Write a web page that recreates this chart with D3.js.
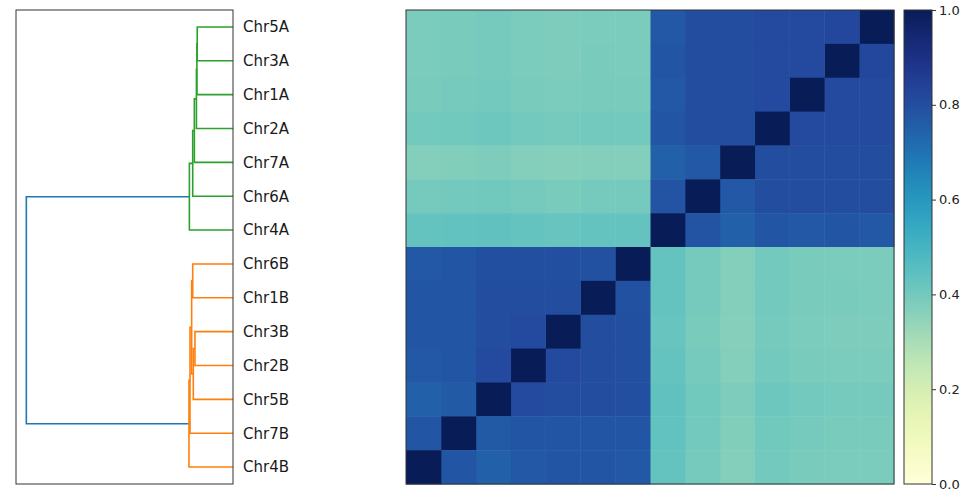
<!DOCTYPE html>
<html>
<head>
<meta charset="utf-8">
<script src="https://cdn.jsdelivr.net/npm/d3@7"></script>
<style>
  body { margin: 0; background: #fff; }
  svg { display: block; font-family: "DejaVu Sans", sans-serif; }
</style>
</head>
<body>
<svg id="chart" width="970" height="490"></svg>
<script>
/** --- DATA --- */

// row order (top to bottom), the heatmap columns run in the reverse order
const labels = ['Chr5A', 'Chr3A', 'Chr1A', 'Chr2A', 'Chr7A', 'Chr6A', 'Chr4A',
  'Chr6B', 'Chr1B', 'Chr3B', 'Chr2B', 'Chr5B', 'Chr7B', 'Chr4B'];

// similarity matrix, rows and columns both in `labels` order
const similarity = [
  [1.00, 0.82, 0.81, 0.81, 0.80, 0.80, 0.77, 0.385, 0.385, 0.38, 0.385, 0.395, 0.39, 0.385],
  [0.82, 1.00, 0.81, 0.81, 0.80, 0.80, 0.78, 0.385, 0.39, 0.38, 0.385, 0.395, 0.39, 0.385],
  [0.81, 0.81, 1.00, 0.81, 0.80, 0.80, 0.77, 0.39, 0.39, 0.385, 0.39, 0.40, 0.395, 0.39],
  [0.81, 0.81, 0.81, 1.00, 0.80, 0.80, 0.78, 0.40, 0.40, 0.395, 0.40, 0.41, 0.405, 0.40],
  [0.80, 0.80, 0.80, 0.80, 1.00, 0.77, 0.745, 0.37, 0.37, 0.365, 0.37, 0.38, 0.375, 0.37],
  [0.80, 0.80, 0.80, 0.80, 0.77, 1.00, 0.785, 0.395, 0.395, 0.39, 0.395, 0.405, 0.40, 0.395],
  [0.77, 0.78, 0.77, 0.78, 0.745, 0.785, 1.00, 0.43, 0.43, 0.425, 0.43, 0.44, 0.435, 0.43],
  [0.385, 0.385, 0.39, 0.40, 0.37, 0.395, 0.43, 1.00, 0.79, 0.795, 0.795, 0.795, 0.775, 0.77],
  [0.385, 0.39, 0.39, 0.40, 0.37, 0.395, 0.43, 0.79, 1.00, 0.80, 0.80, 0.80, 0.78, 0.775],
  [0.38, 0.38, 0.385, 0.395, 0.365, 0.39, 0.425, 0.795, 0.80, 1.00, 0.81, 0.80, 0.78, 0.775],
  [0.385, 0.385, 0.39, 0.40, 0.37, 0.395, 0.43, 0.795, 0.80, 0.81, 1.00, 0.81, 0.775, 0.77],
  [0.395, 0.395, 0.40, 0.41, 0.38, 0.405, 0.44, 0.795, 0.80, 0.80, 0.81, 1.00, 0.765, 0.75],
  [0.39, 0.39, 0.395, 0.405, 0.375, 0.40, 0.435, 0.775, 0.78, 0.78, 0.775, 0.765, 1.00, 0.78],
  [0.385, 0.385, 0.39, 0.40, 0.37, 0.395, 0.43, 0.77, 0.775, 0.775, 0.77, 0.75, 0.78, 1.00]
];

// linkage: [node id, left child, right child, merge distance, cluster]
const linkage = [
  ['a1', 'Chr5A', 'Chr3A', 0.173, 'A'],
  ['a2', 'a1', 'Chr1A', 0.1745, 'A'],
  ['a3', 'a2', 'Chr2A', 0.177, 'A'],
  ['a4', 'a3', 'Chr7A', 0.187, 'A'],
  ['a5', 'a4', 'Chr6A', 0.195, 'A'],
  ['a6', 'a5', 'Chr4A', 0.211, 'A'],
  ['b1', 'Chr6B', 'Chr1B', 0.195, 'B'],
  ['b2', 'Chr3B', 'Chr2B', 0.184, 'B'],
  ['b3', 'b2', 'Chr5B', 0.192, 'B'],
  ['b4', 'b1', 'b3', 0.200, 'B'],
  ['b5', 'b4', 'Chr7B', 0.208, 'B'],
  ['b6', 'b5', 'Chr4B', 0.213, 'B'],
  ['root', 'a6', 'b6', 1.0, 'root']
];

const colorTicks = [0, 0.2, 0.4, 0.6, 0.8, 1.0];

/** --- LAYOUT --- */

const plotTop = 10, plotBottom = 484;
const dendro = { left: 16, right: 233 };
const heat = { left: 406, right: 894 };
const bar = { left: 904, right: 932 };

const clusterColors = { A: '#2ca02c', B: '#ff7f0e', root: '#1f77b4' };

const svg = d3.select('#chart');

/** --- SCALES --- */

const yScale = d3.scaleBand()
  .domain(labels)
  .range([plotTop, plotBottom]);

const xHeat = d3.scaleBand()
  .domain(labels.slice().reverse())
  .range([heat.left, heat.right]);

const rootDist = d3.max(linkage, d => d[3]);
const xDist = d3.scaleLinear()
  .domain([0, rootDist * 1.05])
  .range([dendro.right, dendro.left]);

const color = d3.scaleSequential(d3.interpolateYlGnBu).domain([0, 1]);

/** --- DENDROGRAM --- */

// build a nested tree from the linkage and let d3.hierarchy walk it
const nodes = {};
labels.forEach(l => { nodes[l] = { name: l, dist: 0, children: null }; });
linkage.forEach(([id, l, r, dist, cluster]) => {
  nodes[id] = { name: id, dist: dist, cluster: cluster, children: [nodes[l], nodes[r]] };
});
const tree = d3.hierarchy(nodes.root);

tree.eachAfter(n => {
  if (!n.children) {
    n.y = yScale(n.data.name) + yScale.bandwidth() / 2;
  } else {
    n.y = d3.mean(n.children, c => c.y);
  }
  n.x = xDist(n.data.dist);
});

const gDendro = svg.append('g');

gDendro.selectAll('path')
  .data(tree.descendants().filter(n => n.children))
  .join('path')
  .attr('fill', 'none')
  .attr('stroke', d => clusterColors[d.data.cluster])
  .attr('stroke-width', 1.6)
  .attr('d', d => {
    const [a, b] = d.children;
    return `M${a.x},${a.y}H${d.x}V${b.y}H${b.x}`;
  });

gDendro.append('rect')
  .attr('x', dendro.left)
  .attr('y', plotTop)
  .attr('width', dendro.right - dendro.left)
  .attr('height', plotBottom - plotTop)
  .attr('fill', 'none')
  .attr('stroke', '#333')
  .attr('stroke-width', 1);

svg.append('g')
  .selectAll('text')
  .data(labels)
  .join('text')
  .attr('x', dendro.right + 10)
  .attr('y', d => yScale(d) + yScale.bandwidth() / 2)
  .attr('dy', '0.36em')
  .attr('font-size', 15)
  .attr('fill', '#1a1a1a')
  .text(d => d);

/** --- HEATMAP --- */

const cells = [];
similarity.forEach((row, i) => {
  row.forEach((v, j) => cells.push({ row: labels[i], col: labels[j], value: v }));
});

const gHeat = svg.append('g');

gHeat.selectAll('rect')
  .data(cells)
  .join('rect')
  .attr('x', d => xHeat(d.col))
  .attr('y', d => yScale(d.row))
  .attr('width', xHeat.bandwidth() + 0.5)
  .attr('height', yScale.bandwidth() + 0.5)
  .attr('fill', d => color(d.value));

gHeat.append('rect')
  .attr('x', heat.left)
  .attr('y', plotTop)
  .attr('width', heat.right - heat.left)
  .attr('height', plotBottom - plotTop)
  .attr('fill', 'none')
  .attr('stroke', '#333')
  .attr('stroke-width', 1);

/** --- COLORBAR --- */

const grad = svg.append('defs')
  .append('linearGradient')
  .attr('id', 'cbar')
  .attr('x1', 0).attr('y1', 1)
  .attr('x2', 0).attr('y2', 0);

grad.selectAll('stop')
  .data(d3.range(0, 1.0001, 0.05))
  .join('stop')
  .attr('offset', d => d)
  .attr('stop-color', d => color(d));

svg.append('rect')
  .attr('x', bar.left)
  .attr('y', plotTop)
  .attr('width', bar.right - bar.left)
  .attr('height', plotBottom - plotTop)
  .attr('fill', 'url(#cbar)')
  .attr('stroke', '#333')
  .attr('stroke-width', 1);

const barScale = d3.scaleLinear()
  .domain([0, 1])
  .range([plotBottom, plotTop]);

const barAxis = svg.append('g')
  .attr('transform', `translate(${bar.right},0)`)
  .call(d3.axisRight(barScale)
    .tickValues(colorTicks)
    .tickFormat(d3.format('.1f'))
    .tickSize(4)
    .tickPadding(3));

barAxis.select('.domain').remove();
barAxis.selectAll('line').attr('stroke', '#333');
barAxis.selectAll('text')
  .attr('font-family', '"DejaVu Sans", sans-serif')
  .attr('font-size', 13)
  .attr('fill', '#222');
</script>
</body>
</html>
